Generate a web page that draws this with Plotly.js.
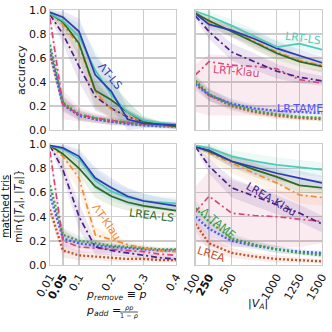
<!DOCTYPE html>
<html><head><meta charset="utf-8">
<script src="https://cdn.plot.ly/plotly-3.0.1.min.js"></script>
<style>html,body{margin:0;padding:0;background:#fff}#c{width:332px;height:332px}</style>
</head><body><div id="c"></div>
<script>
// x values
const pVals = [0.01,0.05,0.1,0.15,0.2,0.25,0.3,0.35,0.4];
const nVals = [100,250,500,750,1000,1250,1500];
const pTicks = [0.01,0.05,0.1,0.2,0.3,0.4];
const pTickText = ['0.01','<b>0.05</b>','0.1','0.2','0.3','0.4'];
const nTicks = [100,250,500,1000,1250,1500];
const nTickText = ['100','<b>250</b>','500','1000','1250','1500'];

// accuracy vs p
const accP_LTLS    = [0.98,0.94,0.82,0.46,0.32,0.09,0.055,0.05,0.04];
const accP_LRTLS   = [0.97,0.91,0.78,0.50,0.29,0.15,0.08,0.06,0.05];
const accP_LREALS  = [0.97,0.90,0.72,0.33,0.25,0.15,0.07,0.05,0.03];
const accP_LTKlau  = [0.97,0.88,0.70,0.32,0.17,0.12,0.07,0.05,0.04];
const accP_LRTKlau = [0.93,0.21,0.13,0.10,0.08,0.06,0.05,0.04,0.03];
const accP_LREAKlau= [0.96,0.80,0.53,0.28,0.18,0.11,0.07,0.05,0.04];
const accP_LTAME   = [0.71,0.23,0.13,0.10,0.08,0.06,0.05,0.04,0.03];
const accP_LRTAME  = [0.66,0.21,0.12,0.09,0.07,0.05,0.04,0.03,0.03];
const accP_LREA    = [0.63,0.22,0.12,0.09,0.07,0.06,0.05,0.04,0.03];
const accP_sLS     = [0.02,0.05,0.11,0.16,0.14,0.09,0.04,0.02,0.02];
const accP_sKlau   = [0.03,0.08,0.13,0.12,0.08,0.05,0.03,0.02,0.02];
const accP_sPink   = [0.05,0.12,0.06,0.04,0.03,0.02,0.02,0.02,0.02];
const accP_sTAME   = [0.07,0.06,0.04,0.03,0.03,0.02,0.02,0.02,0.02];

// accuracy vs |V_A|
const accN_LRTLS   = [0.99,0.95,0.87,0.78,0.69,0.72,0.67];
const accN_LTLS    = [0.97,0.88,0.83,0.76,0.68,0.62,0.56];
const accN_LREALS  = [0.97,0.91,0.82,0.73,0.64,0.57,0.53];
const accN_LTKlau  = [0.98,0.90,0.83,0.74,0.65,0.58,0.54];
const accN_LREAKlau= [0.95,0.82,0.65,0.57,0.49,0.44,0.41];
const accN_LRTKlau = [0.46,0.57,0.54,0.53,0.51,0.42,0.39];
const accN_LTAME   = [0.41,0.30,0.21,0.16,0.13,0.11,0.10];
const accN_LRTAME  = [0.38,0.29,0.22,0.18,0.16,0.15,0.14];
const accN_LREA    = [0.40,0.29,0.20,0.15,0.12,0.10,0.09];
const accN_sLS     = [0.02,0.04,0.05,0.06,0.06,0.05,0.05];
const accN_sKlau   = [0.03,0.06,0.07,0.07,0.06,0.05,0.04];
const accN_pinkLo  = [0.15,0.12,0.12,0.12,0.12,0.14,0.16];
const accN_pinkHi  = [0.55,0.63,0.62,0.60,0.58,0.52,0.50];
const accN_sTAME   = [0.05,0.05,0.04,0.03,0.03,0.02,0.02];

// matched tris vs p
const triP_LTLS    = [0.99,0.97,0.90,0.72,0.64,0.57,0.53,0.51,0.49];
const triP_LRTLS   = [0.99,0.96,0.88,0.70,0.61,0.56,0.53,0.52,0.51];
const triP_LREALS  = [0.99,0.92,0.80,0.65,0.57,0.52,0.49,0.47,0.45];
const triP_LTKlau  = [0.99,0.90,0.72,0.25,0.21,0.17,0.14,0.12,0.11];
const triP_LREAKlau= [0.99,0.79,0.40,0.15,0.12,0.10,0.08,0.06,0.05];
const triP_LRTKlau = [0.94,0.20,0.15,0.14,0.13,0.12,0.11,0.09,0.08];
const triP_LTAME   = [0.66,0.25,0.20,0.18,0.16,0.15,0.14,0.13,0.13];
const triP_LRTAME  = [0.58,0.22,0.18,0.16,0.15,0.14,0.13,0.12,0.12];
const triP_LREA    = [0.46,0.12,0.08,0.07,0.06,0.05,0.05,0.04,0.04];
const triP_sLS     = [0.01,0.03,0.06,0.09,0.08,0.07,0.06,0.05,0.05];
const triP_sKlau   = [0.02,0.07,0.11,0.06,0.04,0.03,0.03,0.02,0.02];
const triP_sPink   = [0.04,0.10,0.05,0.04,0.03,0.03,0.03,0.03,0.03];
const triP_sTAME   = [0.06,0.06,0.04,0.03,0.03,0.03,0.02,0.02,0.02];

// matched tris vs |V_A|
const triN_LRTLS   = [0.99,0.97,0.90,0.86,0.83,0.81,0.79];
const triN_LTLS    = [0.98,0.95,0.86,0.81,0.76,0.72,0.68];
const triN_LREALS  = [0.98,0.94,0.86,0.79,0.73,0.66,0.64];
const triN_LTKlau  = [0.98,0.93,0.84,0.76,0.68,0.58,0.56];
const triN_LREAKlau= [0.98,0.82,0.64,0.57,0.50,0.43,0.34];
const triN_LRTKlau = [0.44,0.57,0.43,0.41,0.40,0.38,0.36];
const triN_LTAME   = [0.47,0.36,0.22,0.17,0.13,0.10,0.08];
const triN_LRTAME  = [0.40,0.30,0.20,0.16,0.13,0.11,0.10];
const triN_LREA    = [0.34,0.18,0.10,0.07,0.05,0.04,0.03];
const triN_sLS     = [0.01,0.03,0.05,0.06,0.06,0.06,0.06];
const triN_sKlau   = [0.02,0.06,0.08,0.08,0.08,0.07,0.07];
const triN_pinkLo  = [0.20,0.15,0.15,0.15,0.15,0.15,0.18];
const triN_pinkHi  = [0.65,0.78,0.70,0.65,0.62,0.60,0.55];
const triN_sTAME   = [0.06,0.06,0.04,0.03,0.03,0.02,0.02];

const C = {
  LTLS:'#2b3db5', LRTLS:'#4ecbb6', LREALS:'#2a6a22',
  LTKlau:'#f48a32', LRTKlau:'#d6467c', LREAKlau:'#4a1f8a',
  LTAME:'#3c9e48', LRTAME:'#4d58f0', LREA:'#c4512e'
};
const STY = {
  LTLS:{dash:'solid',w:1.7}, LRTLS:{dash:'solid',w:1.7}, LREALS:{dash:'solid',w:1.7},
  LTKlau:{dash:'6px,3px,2px,3px',w:1.7}, LRTKlau:{dash:'6px,3px,2px,3px',w:1.7}, LREAKlau:{dash:'6px,3px,2px,3px',w:1.7},
  LTAME:{dash:'2px,2px',w:2.3}, LRTAME:{dash:'2px,2px',w:2.3}, LREA:{dash:'2px,2px',w:2.3}
};
function rgba(hex,a){const n=parseInt(hex.slice(1),16);return `rgba(${n>>16},${(n>>8)&255},${n&255},${a})`;}
const bands=[], lines=[];
function add(ax, xs, key, ys, lo, hi){
  const xa='x'+(ax>1?ax:''), ya='y'+(ax>1?ax:'');
  bands.push({x:xs.concat(xs.slice().reverse()), y:hi.concat(lo.slice().reverse()),
    xaxis:xa, yaxis:ya, mode:'lines', fill:'toself', fillcolor:rgba(C[key],0.11),
    line:{width:0}, hoverinfo:'skip', showlegend:false});
  lines.push({x:xs, y:ys, xaxis:xa, yaxis:ya, mode:'lines',
    line:{color:C[key], width:STY[key].w, dash:STY[key].dash}, showlegend:false});
}
function addS(ax, xs, key, ys, s){
  add(ax, xs, key, ys, ys.map((v,i)=>Math.max(0,v-s[i])), ys.map((v,i)=>Math.min(1,v+s[i])));
}
// panel 1
addS(1,pVals,'LREA',accP_LREA,accP_sTAME);
addS(1,pVals,'LRTAME',accP_LRTAME,accP_sTAME);
addS(1,pVals,'LTAME',accP_LTAME,accP_sTAME);
addS(1,pVals,'LRTKlau',accP_LRTKlau,accP_sPink);
addS(1,pVals,'LREAKlau',accP_LREAKlau,accP_sKlau);
addS(1,pVals,'LTKlau',accP_LTKlau,accP_sKlau);
addS(1,pVals,'LREALS',accP_LREALS,accP_sLS);
addS(1,pVals,'LRTLS',accP_LRTLS,accP_sLS);
addS(1,pVals,'LTLS',accP_LTLS,accP_sLS);
// panel 2
addS(2,nVals,'LREA',accN_LREA,accN_sTAME);
addS(2,nVals,'LTAME',accN_LTAME,accN_sTAME);
addS(2,nVals,'LRTAME',accN_LRTAME,accN_sTAME);
add(2,nVals,'LRTKlau',accN_LRTKlau,accN_pinkLo,accN_pinkHi);
addS(2,nVals,'LREAKlau',accN_LREAKlau,accN_sKlau);
addS(2,nVals,'LTKlau',accN_LTKlau,accN_sLS);
addS(2,nVals,'LREALS',accN_LREALS,accN_sLS);
addS(2,nVals,'LTLS',accN_LTLS,accN_sLS);
addS(2,nVals,'LRTLS',accN_LRTLS,accN_sLS);
// panel 3
addS(3,pVals,'LREA',triP_LREA,triP_sTAME);
addS(3,pVals,'LRTAME',triP_LRTAME,triP_sTAME);
addS(3,pVals,'LTAME',triP_LTAME,triP_sTAME);
addS(3,pVals,'LRTKlau',triP_LRTKlau,triP_sPink);
addS(3,pVals,'LREAKlau',triP_LREAKlau,triP_sKlau);
addS(3,pVals,'LTKlau',triP_LTKlau,triP_sKlau);
addS(3,pVals,'LREALS',triP_LREALS,triP_sLS);
addS(3,pVals,'LRTLS',triP_LRTLS,triP_sLS);
addS(3,pVals,'LTLS',triP_LTLS,triP_sLS);
// panel 4
addS(4,nVals,'LREA',triN_LREA,triN_sTAME);
addS(4,nVals,'LRTAME',triN_LRTAME,triN_sTAME);
addS(4,nVals,'LTAME',triN_LTAME,triN_sTAME);
add(4,nVals,'LRTKlau',triN_LRTKlau,triN_pinkLo,triN_pinkHi);
addS(4,nVals,'LREAKlau',triN_LREAKlau,triN_sKlau);
addS(4,nVals,'LTKlau',triN_LTKlau,triN_sKlau);
addS(4,nVals,'LREALS',triN_LREALS,triN_sLS);
addS(4,nVals,'LTLS',triN_LTLS,triN_sLS);
addS(4,nVals,'LRTLS',triN_LRTLS,triN_sLS);

const W=332;
const xL=[50/W,176/W], xR=[195.5/W,322/W];
const yT=[1-130/W,1-10/W], yB=[1-265/W,1-144.3/W];
const grid='#cccccc';
function xax(dom, anchor, ticks, text, range, show){
  return {domain:dom, anchor:anchor, range:range, tickmode:'array', tickvals:ticks, ticktext:text,
    showticklabels:show, tickangle:-60, ticks:'', showgrid:true, gridcolor:grid, gridwidth:1.3,
    showline:true, mirror:true, linecolor:grid, linewidth:1.3, zeroline:false,
    tickfont:{size:11,color:'#111'}};
}
function yax(dom, anchor, show){
  return {domain:dom, anchor:anchor, range:[0,1], tickmode:'array', tickvals:[0,0.2,0.4,0.6,0.8,1],
    ticktext:['0.0','0.2','0.4','0.6','0.8','1.0'], showticklabels:show, ticks:'',
    showgrid:true, gridcolor:grid, gridwidth:1.3, showline:true, mirror:true, linecolor:grid,
    linewidth:1.3, zeroline:false, tickfont:{size:11,color:'#111'}};
}
function lab(xr,yr,x,y,text,color,angle){
  return {xref:xr,yref:yr,x:x,y:y,text:text,showarrow:false,textangle:angle,
    font:{size:11,color:color},xanchor:'center',yanchor:'middle'};
}
function pap(x,y,text,size,angle,xa){
  return {xref:'paper',yref:'paper',x:x/W,y:1-y/W,text:text,showarrow:false,textangle:angle||0,
    font:{size:size,color:'#111'},xanchor:xa||'center',yanchor:'middle'};
}
const layout = {
  width:332,height:332,margin:{l:0,r:0,t:0,b:0},paper_bgcolor:'#fff',plot_bgcolor:'#fff',
  font:{family:'DejaVu Sans, sans-serif',size:11,color:'#111'},showlegend:false,
  xaxis:xax(xL,'y',pTicks,pTickText,[0.01,0.4],false),
  yaxis:yax(yT,'x',true),
  xaxis2:xax(xR,'y2',nTicks,nTickText,[100,1500],false),
  yaxis2:yax(yT,'x2',false),
  xaxis3:xax(xL,'y3',pTicks,pTickText,[0.01,0.4],true),
  yaxis3:yax(yB,'x3',true),
  xaxis4:xax(xR,'y4',nTicks,nTickText,[100,1500],true),
  yaxis4:yax(yB,'x4',false),
  annotations:[
    lab('x','y',0.197,0.45,'ΛT-LS',C.LTLS,50),
    lab('x2','y2',1292,0.76,'LRT-LS',C.LRTLS,8),
    lab('x2','y2',553,0.49,'LRT-Klau',C.LRTKlau,5),
    lab('x2','y2',1253,0.18,'LR-TAME',C.LRTAME,0),
    lab('x3','y3',0.323,0.414,'LREA-LS',C.LREALS,7),
    lab('x3','y3',0.186,0.356,'ΛT-Klau',C.LTKlau,55),
    lab('x4','y4',937,0.54,'LREA-Klau',C.LREAKlau,30),
    lab('x4','y4',348,0.34,'Λ-TAME',C.LTAME,40),
    lab('x4','y4',276,0.087,'LREA',C.LREA,18),
    pap(22,70,'accuracy',11,-90),
    pap(13,207,'<u>matched tris</u><br>min{|<i>T</i><sub><i>A</i></sub>|, |<i>T</i><sub><i>B</i></sub>|}',10,-90),
    pap(84,295,'<i>p</i><sub><i>remove</i></sub> ≡ <i>p</i>',11,0,'left'),
    pap(84,311,'<i>p</i><sub><i>add</i></sub> =',11,0,'left'),
    pap(129,308,'<i>ρp</i>',6.5,0),
    pap(129,316,'1 − <i>ρ</i>',6.5,0),
    pap(258,304,'|<i>V</i><sub><i>A</i></sub>|',11,0)
  ],
  shapes:[{type:'line',xref:'paper',yref:'paper',x0:120/W,x1:138/W,y0:1-312/W,y1:1-312/W,line:{color:'#111',width:0.7}}]
};
Plotly.newPlot('c', bands.concat(lines), layout, {staticPlot:true});
</script></body></html>
